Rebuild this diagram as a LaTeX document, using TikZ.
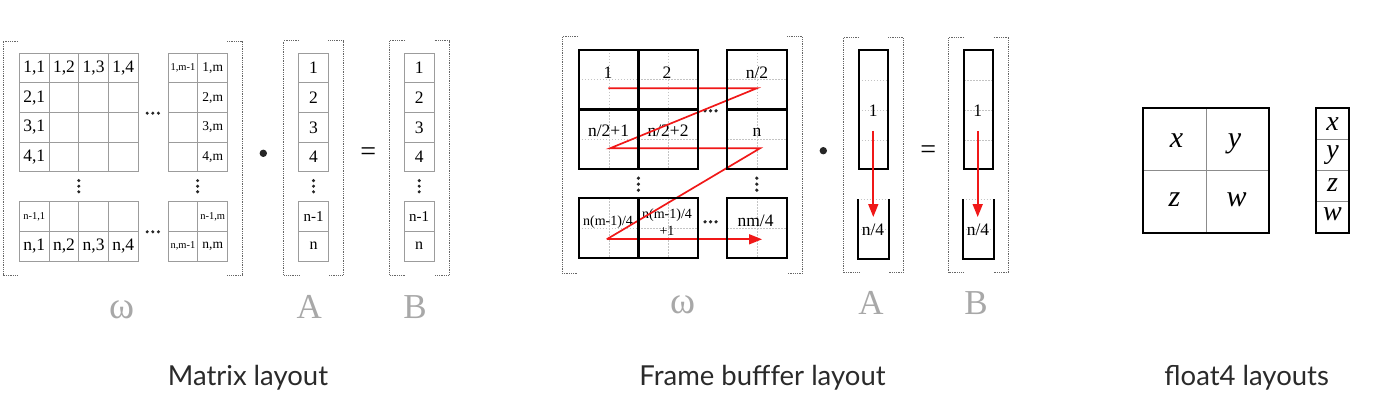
\documentclass[tikz,border=0pt]{standalone}
\usepackage{fontspec}
\setmainfont{Liberation Serif}
\newfontfamily\labfont{Lato}
\usetikzlibrary{arrows.meta}
\definecolor{gridgray}{HTML}{9C9C9C}
\definecolor{lblgray}{HTML}{A8A8A8}
\definecolor{brkgray}{HTML}{666666}
\definecolor{fbred}{HTML}{F01818}
\definecolor{dashgray}{HTML}{C4C4C4}
\definecolor{labblack}{HTML}{2A2A2A}
\newcommand\pxs[1]{\fontsize{#1}{#1}\selectfont}
\newcommand\tbig{\pxs{17.5}}
\newcommand\tmed{\pxs{13.5}}
\newcommand\tsml{\pxs{10.5}}
\begin{document}
\begin{tikzpicture}[x=1pt,y=-1pt,
  mcell/.style={draw=gridgray, line width=0.9pt, minimum width=29.65pt, minimum height=29.65pt, inner sep=0pt, font=\tbig},
  brkt/.style={draw=brkgray, line width=0.8pt, dash pattern=on 0.9pt off 0.9pt},
  fbox/.style={minimum width=59.6pt, minimum height=59.6pt, inner sep=0pt},
  fborder/.style={draw=black, line width=2pt},
  fdash/.style={draw=dashgray, line width=0.6pt, dash pattern=on 1.5pt off 1.5pt},
  ftext/.style={anchor=base, inner sep=0pt, font=\tbig},
  redline/.style={draw=fbred, line width=1.7pt},
  redarrow/.style={draw=fbred, line width=1.7pt, -{Triangle[length=13pt,width=10pt]}},
  glabel/.style={anchor=base, inner sep=0pt, text=lblgray, font=\pxs{35}},
  wlabel/.style={anchor=base, inner sep=0pt, text=lblgray, font=\pxs{38}},
  blabel/.style={anchor=base, inner sep=0pt, text=labblack, font=\labfont\pxs{27.5}},
  opsym/.style={inner sep=0pt, font=\pxs{28}},
  dotc/.style={fill=black!85},
  qcell/.style={draw=gray!90, line width=0.9pt, inner sep=0pt},
  qtext/.style={anchor=base, inner sep=0pt, font=\itshape\pxs{30}},
  stext/.style={anchor=base, inner sep=0pt, font=\itshape\pxs{28}},
]
\useasboundingbox (0,0) rectangle (1400,417);

% ---------------- Matrix layout ----------------
\foreach \c/\x/\t in {1/34.3/{1,1},2/64.0/{1,2},3/93.6/{1,3},4/123.3/{1,4},5/183.0/{\tsml 1,m-1},6/212.7/{\tmed 1,m}}
  \node[mcell] (m-1-\c) at (\x,68.0) {\t};
\foreach \c/\x/\t in {1/34.3/{2,1},2/64.0/{},3/93.6/{},4/123.3/{},5/183.0/{},6/212.7/{\tmed 2,m}}
  \node[mcell] (m-2-\c) at (\x,97.7) {\t};
\foreach \c/\x/\t in {1/34.3/{3,1},2/64.0/{},3/93.6/{},4/123.3/{},5/183.0/{},6/212.7/{\tmed 3,m}}
  \node[mcell] (m-3-\c) at (\x,127.3) {\t};
\foreach \c/\x/\t in {1/34.3/{4,1},2/64.0/{},3/93.6/{},4/123.3/{},5/183.0/{},6/212.7/{\tmed 4,m}}
  \node[mcell] (m-4-\c) at (\x,157.0) {\t};
\foreach \c/\x/\t in {1/34.3/{\tsml n-1,1},2/64.0/{},3/93.6/{},4/123.3/{},5/183.0/{},6/212.7/{\tsml n-1,m}}
  \node[mcell] (m-5-\c) at (\x,216.5) {\t};
\foreach \c/\x/\t in {1/34.3/{n,1},2/64.0/{n,2},3/93.6/{n,3},4/123.3/{n,4},5/183.0/{\tsml n,m-1},6/212.7/{\tmed n,m}}
  \node[mcell] (m-6-\c) at (\x,246.2) {\t};
% dots
\foreach \x in {147.2,152.8,158.4} { \fill[dotc] (\x,113.2) circle (1.7); \fill[dotc] (\x,231.8) circle (1.7); }
\foreach \y in {180.6,186.2,191.8} { \fill[dotc] (78.8,\y) circle (1.7); \fill[dotc] (197.6,\y) circle (1.7); }
% brackets
\draw[brkt] (18,41) -- (3,41) -- (3,275) -- (18,275);
\draw[brkt] (227,41) -- (242,41) -- (242,275) -- (227,275);

% vector A
\foreach \r/\y/\t in {1/68.0/1,2/97.7/2,3/127.3/3,4/157.0/4,5/216.5/{\pxs{15}n-1},6/246.2/{\pxs{16}n}}
  \node[mcell] (va-\r) at (313.5,\y) {\t};
\foreach \y in {180.6,186.2,191.8} \fill[dotc] (313.5,\y) circle (1.7);
\draw[brkt] (299,40.7) -- (283.7,40.7) -- (283.7,275) -- (299,275);
\draw[brkt] (328.3,40.7) -- (343.3,40.7) -- (343.3,275) -- (328.3,275);
% vector B
\foreach \r/\y/\t in {1/68.0/1,2/97.7/2,3/127.3/3,4/157.0/4,5/216.5/{\pxs{15}n-1},6/246.2/{\pxs{16}n}}
  \node[mcell] (vb-\r) at (419.2,\y) {\t};
\foreach \y in {180.6,186.2,191.8} \fill[dotc] (419.2,\y) circle (1.7);
\draw[brkt] (405,40.7) -- (389.5,40.7) -- (389.5,275) -- (405,275);
\draw[brkt] (434.5,40.7) -- (449.5,40.7) -- (449.5,275) -- (434.5,275);

\fill[dotc] (263.3,153.3) circle (3.7);
\node[opsym] (eq1) at (368.3,154) {=};

\node[wlabel] (om1) at (122,318.3) {ω};
\node[glabel] (la1) at (309.3,318.3) {A};
\node[glabel] (lb1) at (415,318.3) {B};
\node[blabel] (t1) at (248,385) {Matrix layout};

% ---------------- Frame buffer layout ----------------
\foreach \r/\y in {1/79.75,2/139.3,3/228.4}
  \foreach \c/\x in {1/608.8,2/668.4,3/757.4}
    \node[fbox] (f-\r-\c) at (\x,\y) {};
\foreach \r in {1,2,3}
  \foreach \c in {1,2,3} {
    \draw[fdash] (f-\r-\c.north) -- (f-\r-\c.south);
    \draw[fdash] (f-\r-\c.west) -- (f-\r-\c.east);
  }
\node[ftext] (ft11) at (608,78.3) {1};
\node[ftext] (ft12) at (667,78.3) {2};
\node[ftext] (ft13) at (757,78.3) {n/2};
\node[ftext] (ft21) at (608.5,136) {n/2+1};
\node[ftext] (ft22) at (668,136) {n/2+2};
\node[ftext] (ft23) at (757,136) {n};
\node[ftext, font=\pxs{14}] (ft31) at (608,225.5) {n(m-1)/4};
\node[ftext, font=\pxs{14}] (ft32a) at (667,218.3) {n(m-1)/4};
\node[ftext, font=\pxs{14}] (ft32b) at (667,235) {+1};
\node[ftext] (ft33) at (755.5,226.5) {nm/4};
% dots
\foreach \x in {705,710.5,716} { \fill[dotc] (\x,110.8) circle (1.8); \fill[dotc] (\x,221.8) circle (1.8); }
\foreach \y in {178.2,184.2,190.2} { \fill[dotc] (638.4,\y) circle (1.8); \fill[dotc] (756.8,\y) circle (1.8); }
% red zigzag
\coordinate (z1) at (608.3,88.3);
\coordinate (z2) at (756.7,88.3);
\coordinate (z3) at (610,148.3);
\coordinate (z4) at (760,148.3);
\coordinate (z5) at (606.7,239.3);
\coordinate (z6) at (762,239.3);
\draw[redline, line join=miter] (z1) -- (z2) -- (z3) -- (z4) -- (z5);
\draw[redarrow] (z5) -- (z6);
% borders
\foreach \r in {1,2,3}
  \foreach \c in {1,2,3}
    \draw[fborder] (f-\r-\c.north west) rectangle (f-\r-\c.south east);
\draw[brkt] (578,36.7) -- (562.3,36.7) -- (562.3,273.3) -- (578,273.3);
\draw[brkt] (787,36.7) -- (802.7,36.7) -- (802.7,273.3) -- (787,273.3);

\fill[dotc] (823.3,150.7) circle (3.7);
\node[opsym] (eq2) at (928.3,151.7) {=};

% frame vector A
\node[inner sep=0pt, minimum width=28.3pt, minimum height=119pt] (fa1) at (873.15,109.5) {};
\node[inner sep=0pt, minimum width=30.6pt, minimum height=59.4pt] (fa2) at (873,229) {};
\foreach \y in {80,110,140} \draw[fdash] (fa1.west |- 0,\y) -- (fa1.east |- 0,\y);
\draw[fdash] (fa2.north west) -- (fa2.north east);
\draw[fdash] (fa2.west) -- (fa2.east);
\node[inner sep=0pt, font=\tbig] (fa1t) at (873.3,110.3) {1};
\node[inner sep=0pt, font=\tbig] (fa2t) at (873,230) {n/4};
\draw[fborder] (fa1.north west) rectangle (fa1.south east);
\draw[fborder] (fa2.north west) -- (fa2.south west) -- (fa2.south east) -- (fa2.north east);
\coordinate (fas) at (873.3,131);
\coordinate (fae) at (873.3,217);
\draw[redarrow] (fas) -- (fae);
\draw[brkt] (859,37.3) -- (843.3,37.3) -- (843.3,272.7) -- (859,272.7);
\draw[brkt] (888,37.3) -- (903.3,37.3) -- (903.3,272.7) -- (888,272.7);

% frame vector B
\node[inner sep=0pt, minimum width=28.4pt, minimum height=119pt] (fb1) at (978.5,109.5) {};
\node[inner sep=0pt, minimum width=31pt, minimum height=59.4pt] (fb2) at (978.2,229) {};
\foreach \y in {80,110,140} \draw[fdash] (fb1.west |- 0,\y) -- (fb1.east |- 0,\y);
\draw[fdash] (fb2.north west) -- (fb2.north east);
\draw[fdash] (fb2.west) -- (fb2.east);
\node[inner sep=0pt, font=\tbig] (fb1t) at (977.7,110.3) {1};
\node[inner sep=0pt, font=\tbig] (fb2t) at (978,230) {n/4};
\draw[fborder] (fb1.north west) rectangle (fb1.south east);
\draw[fborder] (fb2.north west) -- (fb2.south west) -- (fb2.south east) -- (fb2.north east);
\coordinate (fbs) at (977.7,131);
\coordinate (fbe) at (977.7,217);
\draw[redarrow] (fbs) -- (fbe);
\draw[brkt] (964,37.3) -- (948.7,37.3) -- (948.7,272.7) -- (964,272.7);
\draw[brkt] (993.7,37.3) -- (1008.7,37.3) -- (1008.7,272.7) -- (993.7,272.7);

\node[wlabel] (om2) at (683.3,313.8) {ω};
\node[glabel] (la2) at (871,314.5) {A};
\node[glabel] (lb2) at (976,314.5) {B};
\node[blabel] (t2) at (762.5,385.5) {Frame bufffer layout};

% ---------------- float4 layouts ----------------
\foreach \r/\y in {1/139.6,2/201.3}
  \foreach \c/\x in {1/1175.1,2/1237.7}
    \node[qcell, minimum width=62.6pt, minimum height=61.7pt] (q-\r-\c) at (\x,\y) {};
\draw[fborder] (q-1-1.north west) rectangle (q-2-2.south east);
\node[qtext] (qx) at (1176.5,147.3) {x};
\node[qtext] (qy) at (1234.5,147.3) {y};
\node[qtext] (qz) at (1174.5,206) {z};
\node[qtext] (qw) at (1236.5,206) {w};

\foreach \r/\y in {1/123.8,2/154.8,3/186,4/217}
  \node[qcell, minimum width=32.3pt, minimum height=31pt] (s-\r) at (1332.85,\y) {};
\draw[fborder] (s-1.north west) rectangle (s-4.south east);
\node[stext] (sx) at (1332.5,131) {x};
\node[stext] (sy) at (1332.5,158.5) {y};
\node[stext] (sz) at (1332.5,191.7) {z};
\node[stext] (sw) at (1332.5,220.7) {w};

\node[blabel] (t3) at (1246.7,385) {float4 layouts};
\end{tikzpicture}
\end{document}
